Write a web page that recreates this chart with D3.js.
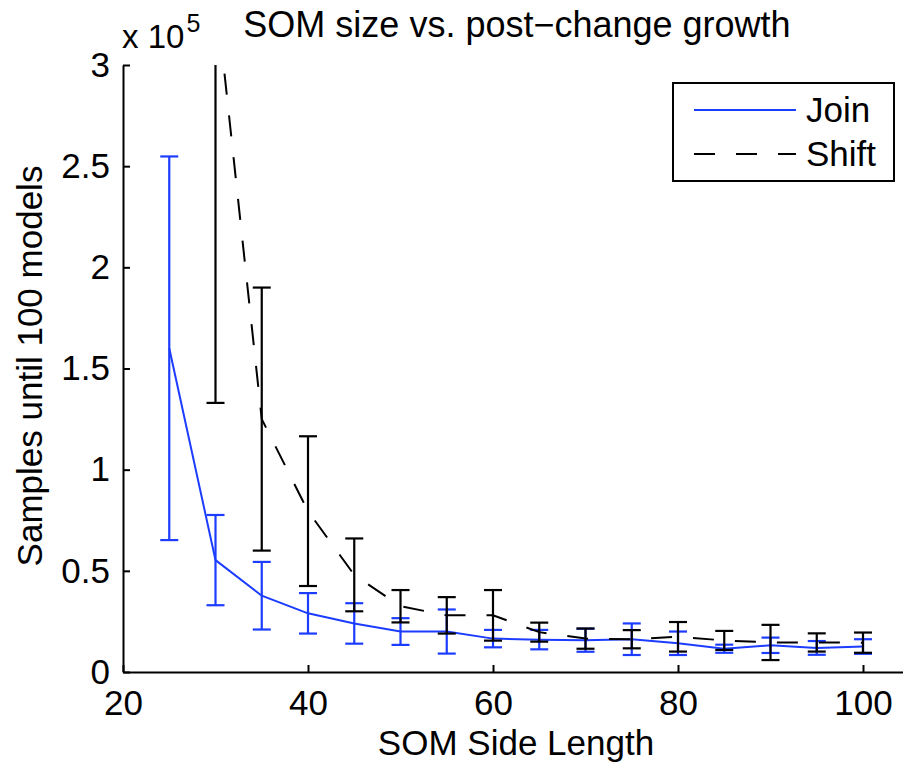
<!DOCTYPE html>
<html>
<head>
<meta charset="utf-8">
<script src="https://cdn.jsdelivr.net/npm/d3@7"></script>
<style>
  body { margin: 0; background: #fff; }
  svg text { font-family: "Liberation Sans", Arial, Helvetica, sans-serif; fill: #000; }
</style>
</head>
<body>
<svg id="chart" width="903" height="765"></svg>
<script>
// SOM side length for each run group
const sideLength = [25, 30, 35, 40, 45, 50, 55, 60, 65, 70, 75, 80, 85, 90, 95, 100];

// "Join" strategy: mean samples until 100 models, and error half-width
const joinMean = [160000, 55300, 37700, 29000, 24000, 20000, 20000, 16500, 16000, 15700, 16200, 14200, 11500, 13200, 11900, 12600];
const joinErr  = [ 94800, 22300, 16700, 10000, 10000,  6600, 10900,  4300,  4800,  5700,  7800,  5800,  2000,  3800,  3400,  3600];

// "Shift" strategy (no point shown at side length 25)
const shiftSide = [30, 35, 40, 45, 50, 55, 60, 65, 70, 75, 80, 85, 90, 95, 100];
const shiftMean = [337000, 125000, 79500, 48000, 32500, 28000, 28000, 19700, 16500, 16200, 17400, 15600, 14600, 14600, 14500];
const shiftErr  = [204000,  65000, 37000, 18000,  8000,  9000, 12500,  4700,  5000,  4500,  7300,  4700,  8700,  4500,  5000];

const xTicks = [20, 40, 60, 80, 100];
const yTicks = [0, 50000, 100000, 150000, 200000, 250000, 300000];
const yTickLabels = ["0", "0.5", "1", "1.5", "2", "2.5", "3"];

const titleText = "SOM size vs. post\u2212change growth";
const xLabel = "SOM Side Length";
const yLabel = "Samples until 100 models";
const seriesNames = ["Join", "Shift"];

const BLUE = "#1c3cff";
const FONT = 35;

const svg = d3.select("#chart");
const plot = { left: 123, top: 65, bottom: 672 };

const x = d3.scaleLinear().domain([20, 105]).range([plot.left, plot.left + 85 * 9.25]);
const y = d3.scaleLinear().domain([0, 300000]).range([plot.bottom, plot.top]);

svg.append("defs").append("clipPath").attr("id", "plotClip")
  .append("rect")
  .attr("x", plot.left).attr("y", plot.top)
  .attr("width", 903 - plot.left).attr("height", plot.bottom - plot.top);

// axes
const yAxis = d3.axisLeft(y).tickValues(yTicks)
  .tickFormat((d, i) => yTickLabels[i])
  .tickSizeInner(-7).tickSizeOuter(0).tickPadding(13);
const xAxis = d3.axisBottom(x).tickValues(xTicks)
  .tickFormat(d3.format("d"))
  .tickSizeInner(-7).tickSizeOuter(0).tickPadding(18);

const gy = svg.append("g").attr("transform", `translate(${plot.left},0)`).call(yAxis);
const gx = svg.append("g").attr("transform", `translate(0,${plot.bottom})`).call(xAxis);
[gx, gy].forEach(g => {
  g.attr("font-family", null).attr("font-size", null);
  g.select(".domain").attr("stroke", "#000").attr("stroke-width", 2);
  g.selectAll(".tick line").attr("stroke", "#000").attr("stroke-width", 2);
  g.selectAll(".tick text").style("font-size", FONT + "px");
});

// exponent marker above the y axis
const expo = svg.append("text").attr("x", 122).attr("y", 48).style("font-size", "33px");
expo.append("tspan").text("x 10");
expo.append("tspan").attr("dx", 2).attr("dy", -16).style("font-size", "25px").text("5");

// title and axis labels
svg.append("text").attr("x", 517).attr("y", 37).attr("text-anchor", "middle")
  .style("font-size", "36px").text(titleText);
svg.append("text").attr("x", 516).attr("y", 755).attr("text-anchor", "middle")
  .style("font-size", FONT + "px").text(xLabel);
svg.append("text").attr("transform", "translate(42,366) rotate(-90)").attr("text-anchor", "middle")
  .style("font-size", FONT + "px").text(yLabel);

// series
const plotG = svg.append("g").attr("clip-path", "url(#plotClip)");
const line = d3.line().x(d => x(d.s)).y(d => y(d.m));
const CAP = 9;

function drawSeries(side, mean, err, color, dash) {
  const pts = side.map((s, i) => ({ s, m: mean[i], e: err[i] }));
  const g = plotG.append("g");
  g.append("path").datum(pts)
    .attr("fill", "none").attr("stroke", color).attr("stroke-width", 2)
    .attr("stroke-dasharray", dash).attr("d", line);
  const bars = g.selectAll("g.bar").data(pts).enter().append("g").attr("class", "bar")
    .attr("stroke", color).attr("stroke-width", 2.2);
  bars.append("line")
    .attr("x1", d => x(d.s)).attr("x2", d => x(d.s))
    .attr("y1", d => y(d.m - d.e)).attr("y2", d => y(d.m + d.e));
  bars.append("line")
    .attr("x1", d => x(d.s) - CAP).attr("x2", d => x(d.s) + CAP)
    .attr("y1", d => y(d.m + d.e)).attr("y2", d => y(d.m + d.e));
  bars.append("line")
    .attr("x1", d => x(d.s) - CAP).attr("x2", d => x(d.s) + CAP)
    .attr("y1", d => y(d.m - d.e)).attr("y2", d => y(d.m - d.e));
}

drawSeries(sideLength, joinMean, joinErr, BLUE, null);
drawSeries(shiftSide, shiftMean, shiftErr, "#000", "21,21");

// legend
const leg = svg.append("g");
leg.append("rect").attr("x", 673).attr("y", 83).attr("width", 221).attr("height", 98)
  .attr("fill", "#fff").attr("stroke", "#000").attr("stroke-width", 2);
const legItems = [
  { name: seriesNames[0], color: BLUE, dash: null, y: 110 },
  { name: seriesNames[1], color: "#000", dash: "21,21", y: 154 }
];
legItems.forEach(it => {
  leg.append("line").attr("x1", 694).attr("x2", 796).attr("y1", it.y).attr("y2", it.y)
    .attr("stroke", it.color).attr("stroke-width", 2).attr("stroke-dasharray", it.dash);
  leg.append("text").attr("x", 806).attr("y", it.y + 12).style("font-size", FONT + "px").text(it.name);
});
</script>
</body>
</html>
